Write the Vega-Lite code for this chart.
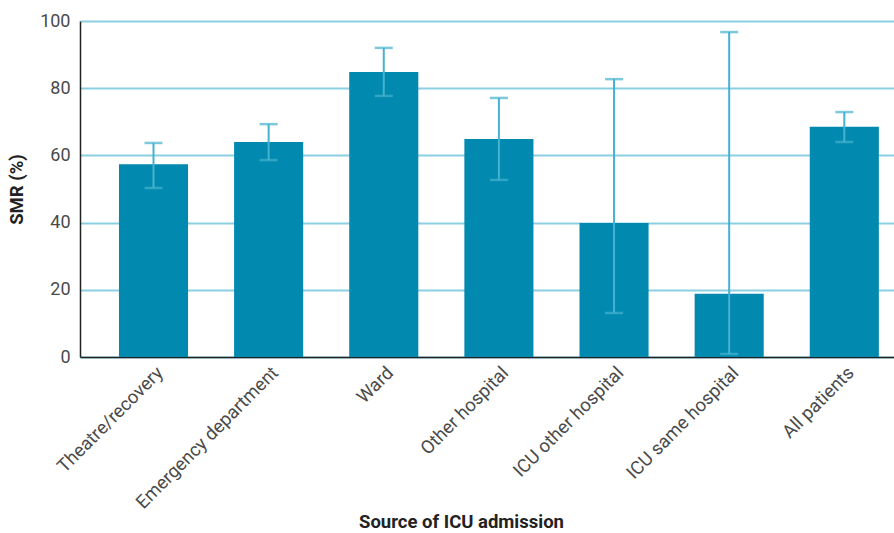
{
  "$schema": "https://vega.github.io/schema/vega-lite/v6.json",
  "width": 814,
  "height": 336,
  "autosize": {"type": "none"},
  "padding": {"left": 80, "top": 21, "right": 0, "bottom": 176},
  "background": "white",
  "config": {
    "view": {"stroke": null},
    "font": "Roboto",
    "axis": {
      "domainColor": "#222222",
      "domainWidth": 1.5,
      "ticks": false,
      "labelColor": "#4a4a4a",
      "labelFont": "Roboto",
      "labelFontSize": 17,
      "labelLimit": 400,
      "titleFont": "Roboto",
      "titleFontSize": 18.5,
      "titleFontWeight": "bold",
      "titleColor": "#222222"
    }
  },
  "data": {
    "values": [
      {"source": "Theatre/recovery", "smr": 57.4, "lo": 50.3, "hi": 63.7},
      {"source": "Emergency department", "smr": 64.0, "lo": 58.6, "hi": 69.3},
      {"source": "Ward", "smr": 84.8, "lo": 77.7, "hi": 92.0},
      {"source": "Other hospital", "smr": 64.9, "lo": 52.7, "hi": 77.1},
      {"source": "ICU other hospital", "smr": 39.9, "lo": 13.1, "hi": 82.7},
      {"source": "ICU same hospital", "smr": 18.8, "lo": 0.9, "hi": 96.7},
      {"source": "All patients", "smr": 68.5, "lo": 64.0, "hi": 72.9}
    ]
  },
  "encoding": {
    "x": {
      "field": "source",
      "type": "nominal",
      "sort": null,
      "scale": {"paddingInner": 0.4, "paddingOuter": 0.235, "align": 0.72},
      "axis": {
        "title": "Source of ICU admission",
        "labelAngle": -45,
        "labelFontSize": 18.5,
        "labelPadding": 6,
        "titleX": 381,
        "titleY": 164,
        "titleBaseline": "middle",
        "domainColor": "#222222"
      }
    }
  },
  "layer": [
    {
      "mark": {"type": "bar", "color": "#0289b0"},
      "encoding": {
        "y": {
          "field": "smr",
          "type": "quantitative",
          "scale": {"domain": [0, 100], "nice": false},
          "axis": {
            "title": "SMR (%)",
            "values": [0, 20, 40, 60, 80, 100],
            "grid": true,
            "gridColor": "#8ccfe2",
            "gridWidth": 2,
            "labelPadding": 10,
            "titlePadding": 13,
            "labelFontSize": 18
          }
        }
      }
    },
    {
      "mark": {"type": "rule", "color": "#45b2cf", "strokeWidth": 2},
      "encoding": {
        "y": {"field": "lo", "type": "quantitative"},
        "y2": {"field": "hi"}
      }
    },
    {
      "mark": {"type": "tick", "color": "#45b2cf", "thickness": 2.5, "size": 18, "orient": "horizontal"},
      "encoding": {
        "y": {"field": "lo", "type": "quantitative"}
      }
    },
    {
      "mark": {"type": "tick", "color": "#45b2cf", "thickness": 2.5, "size": 18, "orient": "horizontal"},
      "encoding": {
        "y": {"field": "hi", "type": "quantitative"}
      }
    }
  ]
}
